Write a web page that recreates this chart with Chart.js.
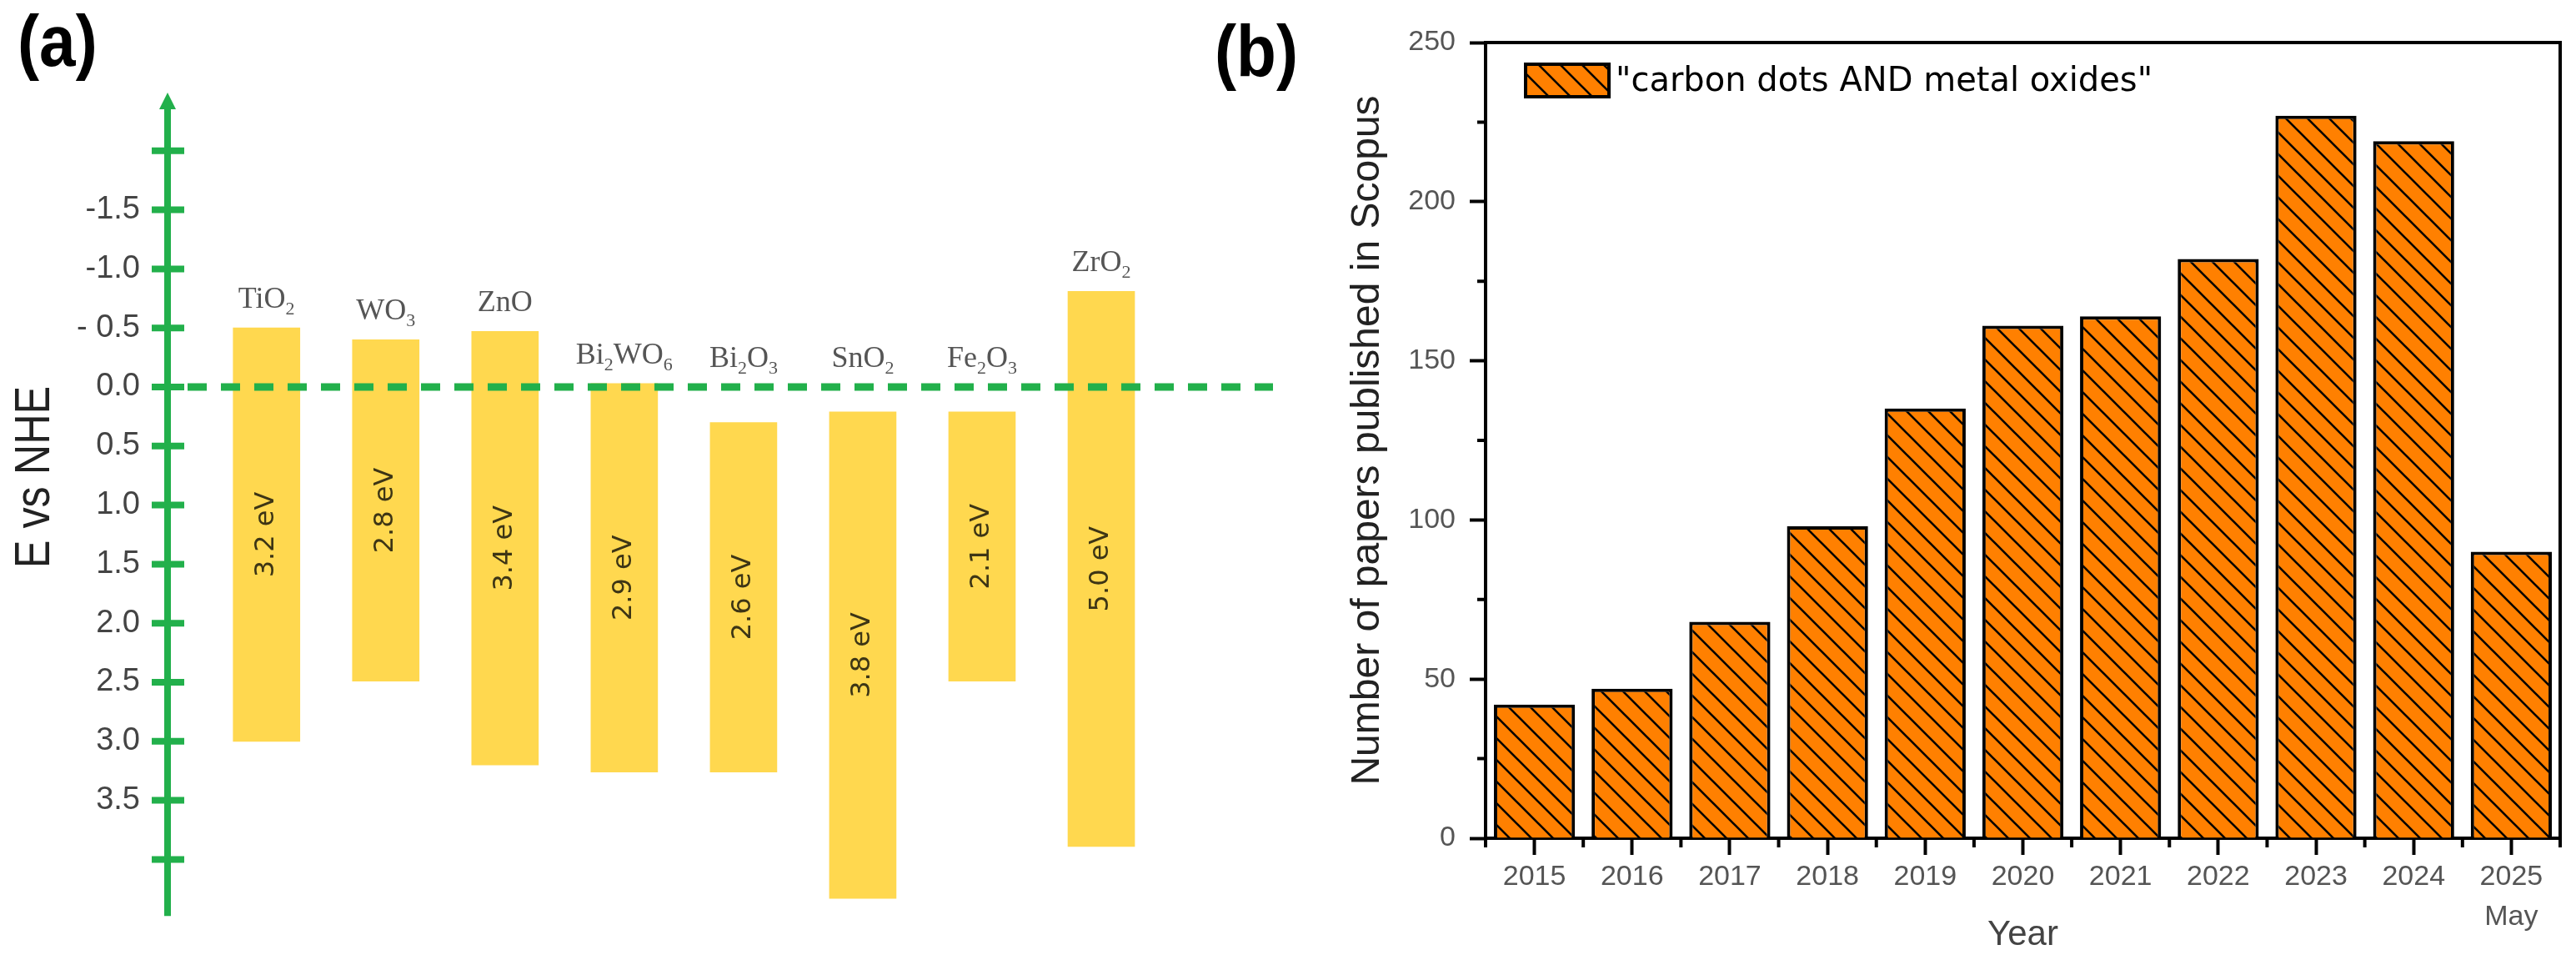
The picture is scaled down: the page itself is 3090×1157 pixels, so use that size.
<!DOCTYPE html>
<html>
<head>
<meta charset="utf-8">
<script src="https://cdn.jsdelivr.net/npm/chart.js@4.4.1/dist/chart.umd.min.js"></script>
<style>
    html, body { margin: 0; padding: 0; background: #fff; }
    body { width: 3090px; height: 1157px; position: relative; overflow: hidden; }
    canvas { position: absolute; top: 0; }
    #bandChart { left: 0; }
    #paperChart { left: 1560px; }
    .panel-tag {
        position: absolute;
        font: bold 88px 'Liberation Sans', Arial, sans-serif;
        line-height: 88px;
        color: #000;
        transform: scaleX(0.89);
        transform-origin: left top;
        white-space: nowrap;
    }
</style>
</head>
<body>
<canvas id="bandChart" width="1560" height="1157"></canvas>
<canvas id="paperChart" width="1530" height="1157"></canvas>
<div class="panel-tag" style="left:21px;top:5px">(a)</div>
<div class="panel-tag" style="left:1457px;top:17px">(b)</div>
<script>
// panel (a): band edges vs NHE
const oxides = ['TiO2', 'WO3', 'ZnO', 'Bi2WO6', 'Bi2O3', 'SnO2', 'Fe2O3', 'ZrO2'];
const cbEdge = [-0.5, -0.4, -0.47, -0.03, 0.3, 0.21, 0.21, -0.81];
const vbEdge = [3.0, 2.49, 3.2, 3.26, 3.26, 4.33, 2.49, 3.89];
const gapText = ['3.2 eV', '2.8 eV', '3.4 eV', '2.9 eV', '2.6 eV', '3.8 eV', '2.1 eV', '5.0 eV'];
const eTickValues = [-1.5, -1.0, -0.5, 0, 0.5, 1.0, 1.5, 2.0, 2.5, 3.0, 3.5];
const eTickLabels = ['-1.5', '-1.0', '- 0.5', '0.0', '0.5', '1.0', '1.5', '2.0', '2.5', '3.0', '3.5'];

// panel (b): papers per year
const years = ['2015', '2016', '2017', '2018', '2019', '2020', '2021', '2022', '2023', '2024', '2025'];
const paperCounts = [42, 47, 68, 98, 135, 161, 164, 182, 227, 219, 90];
const partialYearNote = 'May';
const seriesLabel = '"carbon dots AND metal oxides"';

const GREEN = '#22b04b';
const SANS = "'Liberation Sans', Arial, sans-serif";

// formula with every digit as a subscript, centred on cx
function drawFormula(ctx, text, cx, baseY) {
    const parts = text.match(/\d+|\D+/g);
    const big = "36px 'Liberation Serif', 'Times New Roman', serif";
    const small = "22px 'Liberation Serif', 'Times New Roman', serif";
    let total = 0;
    parts.forEach(p => {
        ctx.font = /\d/.test(p) ? small : big;
        total += ctx.measureText(p).width;
    });
    let px = cx - total / 2;
    parts.forEach(p => {
        const sub = /\d/.test(p);
        ctx.font = sub ? small : big;
        ctx.fillText(p, px, sub ? baseY + 8 : baseY);
        px += ctx.measureText(p).width;
    });
}

const energyAxisPlugin = {
    id: 'energyAxis',
    afterDatasetsDraw(chart) {
        const { ctx, chartArea: a, scales: { y } } = chart;
        const bars = chart.getDatasetMeta(0).data;
        const y0 = y.getPixelForValue(0);
        ctx.save();

        // dashed 0 V line
        ctx.strokeStyle = GREEN;
        ctx.lineWidth = 9;
        ctx.setLineDash([23, 17]);
        ctx.beginPath();
        ctx.moveTo(a.left + 24, y0);
        ctx.lineTo(a.right, y0);
        ctx.stroke();
        ctx.setLineDash([]);

        // axis with arrow and crossing ticks
        ctx.lineWidth = 8;
        ctx.beginPath();
        ctx.moveTo(a.left, a.top + 14);
        ctx.lineTo(a.left, a.bottom - 3);
        ctx.stroke();
        ctx.fillStyle = GREEN;
        ctx.beginPath();
        ctx.moveTo(a.left, a.top + 1);
        ctx.lineTo(a.left - 10, a.top + 21);
        ctx.lineTo(a.left + 10, a.top + 21);
        ctx.closePath();
        ctx.fill();
        y.ticks.forEach(t => {
            if (t.value <= y.min || t.value >= y.max) return;
            const py = y.getPixelForValue(t.value);
            ctx.beginPath();
            ctx.moveTo(a.left - 19, py);
            ctx.lineTo(a.left + 20, py);
            ctx.stroke();
        });

        // oxide names above the bars
        ctx.fillStyle = '#555';
        ctx.textAlign = 'left';
        ctx.textBaseline = 'alphabetic';
        oxides.forEach((name, i) => {
            const top = y.getPixelForValue(cbEdge[i]);
            drawFormula(ctx, name, bars[i].x, Math.min(top, y0) - 24);
        });

        // band gap text inside the bars
        ctx.fillStyle = '#3d3515';
        ctx.font = "32px 'DejaVu Sans', sans-serif";
        ctx.textAlign = 'center';
        ctx.textBaseline = 'middle';
        gapText.forEach((txt, i) => {
            const py = y.getPixelForValue((cbEdge[i] + vbEdge[i]) / 2);
            ctx.save();
            ctx.translate(bars[i].x, py);
            ctx.rotate(-Math.PI / 2);
            ctx.fillText(txt, 0, 0);
            ctx.restore();
        });

        // axis title
        ctx.save();
        ctx.translate(42, 572);
        ctx.rotate(-Math.PI / 2);
        ctx.scale(0.84, 1);
        ctx.fillStyle = '#222';
        ctx.font = '60px ' + SANS;
        ctx.fillText('E vs NHE', 0, 0);
        ctx.restore();

        ctx.restore();
    }
};

new Chart(document.getElementById('bandChart'), {
    type: 'bar',
    data: {
        datasets: [{
            data: oxides.map((name, i) => ({ x: i, y: [cbEdge[i], vbEdge[i]] })),
            backgroundColor: '#ffd84f',
            borderWidth: 0,
            barThickness: 80
        }]
    },
    options: {
        responsive: false,
        animation: false,
        devicePixelRatio: 1,
        layout: { padding: { top: 110, right: 33, bottom: 4, left: 0 } },
        plugins: { legend: { display: false }, tooltip: { enabled: false } },
        scales: {
            x: { type: 'linear', min: -0.83, max: 8.44, offset: false, display: false },
            y: {
                reverse: true,
                min: -2.5,
                max: 4.5,
                afterFit: s => { s.width = 201; },
                grid: { display: false, drawTicks: false },
                border: { display: false },
                ticks: {
                    stepSize: 0.5,
                    padding: 33,
                    color: '#444',
                    font: { family: SANS, size: 38 },
                    callback: v => {
                        const k = eTickValues.findIndex(t => Math.abs(t - v) < 1e-6);
                        return k < 0 ? '' : eTickLabels[k];
                    }
                }
            }
        }
    },
    plugins: [energyAxisPlugin]
});

// orange fill with black "\" hatching
const paperCanvas = document.getElementById('paperChart');
const makeHatch = (ctx) => {
    const s = 26;
    const tile = document.createElement('canvas');
    tile.width = s;
    tile.height = s;
    const g = tile.getContext('2d');
    g.fillStyle = '#ff8000';
    g.fillRect(0, 0, s, s);
    g.strokeStyle = '#000';
    g.lineWidth = 2.6;
    g.beginPath();
    g.moveTo(-3, -3); g.lineTo(s + 3, s + 3);
    g.moveTo(s - 4, -4); g.lineTo(s + 4, 4);
    g.moveTo(-4, s - 4); g.lineTo(4, s + 4);
    g.stroke();
    return ctx.createPattern(tile, 'repeat');
};
const hatch = makeHatch(paperCanvas.getContext('2d'));

const frameLegendPlugin = {
    id: 'frameLegend',
    afterDraw(chart) {
        const { ctx, chartArea: a, scales: { x, y } } = chart;
        ctx.save();
        ctx.strokeStyle = '#000';
        ctx.lineWidth = 4;

        // top and right frame lines
        ctx.beginPath();
        ctx.moveTo(a.left, a.top);
        ctx.lineTo(a.right, a.top);
        ctx.lineTo(a.right, a.bottom);
        ctx.stroke();

        // minor ticks
        ctx.beginPath();
        for (let v = 25; v < y.max; v += 50) {
            const py = y.getPixelForValue(v);
            ctx.moveTo(a.left - 10, py);
            ctx.lineTo(a.left, py);
        }
        for (let i = 0; i <= years.length; i++) {
            const px = x.getPixelForValue(i - 0.5);
            ctx.moveTo(px, a.bottom);
            ctx.lineTo(px, a.bottom + 11);
        }
        ctx.stroke();

        // legend inside the frame
        const ds = chart.data.datasets[0];
        const bx = a.left + 46, by = a.top + 24, bw = 104, bh = 43;
        ctx.fillStyle = ds.backgroundColor;
        ctx.fillRect(bx, by, bw, bh);
        ctx.strokeRect(bx + 2, by + 2, bw - 4, bh - 4);
        ctx.fillStyle = '#000';
        ctx.font = "40px 'DejaVu Sans', sans-serif";
        ctx.textAlign = 'left';
        ctx.textBaseline = 'alphabetic';
        ctx.fillText(ds.label, bx + bw + 6, by + 34);
        ctx.restore();
    }
};

new Chart(paperCanvas, {
    type: 'bar',
    data: {
        labels: years.map(yr => yr === '2025' ? [yr, partialYearNote] : yr),
        datasets: [{
            label: seriesLabel,
            data: paperCounts,
            backgroundColor: hatch,
            borderColor: '#000',
            borderWidth: 4,
            barPercentage: 0.83,
            categoryPercentage: 1
        }]
    },
    options: {
        responsive: false,
        animation: false,
        devicePixelRatio: 1,
        layout: { padding: { top: 51, right: 19, bottom: 0, left: 0 } },
        plugins: { legend: { display: false }, tooltip: { enabled: false } },
        scales: {
            x: {
                afterFit: s => { s.height = 152; },
                grid: { drawOnChartArea: false, offset: false, tickLength: 20, tickWidth: 4, tickColor: '#000' },
                border: { color: '#000', width: 4 },
                ticks: {
                    color: '#555',
                    font: { family: SANS, size: 34, lineHeight: 1.4 },
                    padding: 3,
                    maxRotation: 0,
                    autoSkip: false
                },
                title: {
                    display: true,
                    text: 'Year',
                    color: '#444',
                    font: { family: SANS, size: 42 },
                    padding: { top: 0, bottom: 10 }
                }
            },
            y: {
                min: 0,
                max: 250,
                afterFit: s => { s.width = 222; },
                grid: { drawOnChartArea: false, tickLength: 19, tickWidth: 4, tickColor: '#000' },
                border: { color: '#000', width: 4 },
                ticks: {
                    stepSize: 50,
                    padding: 17,
                    color: '#555',
                    font: { family: SANS, size: 34 }
                },
                title: {
                    display: true,
                    text: 'Number of papers published in Scopus',
                    color: '#222',
                    font: { family: SANS, size: 48 },
                    padding: { top: 52, bottom: 0 }
                }
            }
        }
    },
    plugins: [frameLegendPlugin]
});
</script>
</body>
</html>
